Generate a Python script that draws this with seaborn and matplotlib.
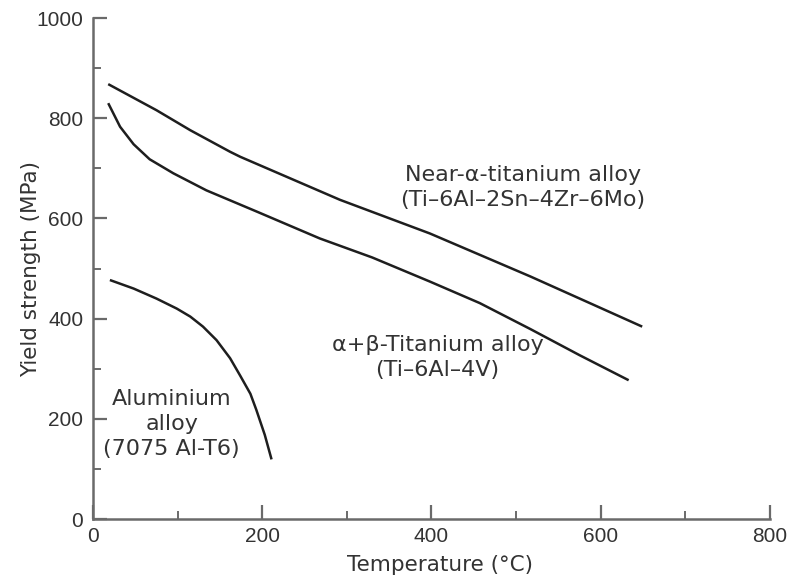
import matplotlib
matplotlib.use("Agg")
import matplotlib.pyplot as plt
from matplotlib.ticker import MultipleLocator
import pandas as pd
import seaborn as sns

# Yield strength vs. temperature for three alloys
near_alpha_T = [18, 75, 115, 162, 174, 233, 292, 398, 517, 587, 649]
near_alpha_S = [868, 816, 776, 733, 723, 680, 637, 570, 484, 431, 384]

alpha_beta_T = [18, 32, 48, 67, 95, 134, 193, 268, 330, 398, 457, 517, 575, 633]
alpha_beta_S = [830, 783, 748, 718, 690, 656, 614, 560, 522, 474, 431, 379, 327, 277]

aluminium_T = [20, 48, 75, 99, 115, 130, 146, 162, 174, 186, 193, 203, 211]
aluminium_S = [477, 460, 440, 420, 404, 384, 357, 321, 286, 250, 218, 168, 119]

x_ticks = [0, 200, 400, 600, 800]
y_ticks = [0, 200, 400, 600, 800, 1000]

series = {
    "near_alpha": (near_alpha_T, near_alpha_S),
    "alpha_beta": (alpha_beta_T, alpha_beta_S),
    "aluminium": (aluminium_T, aluminium_S),
}
frames = []
for name, (t, s) in series.items():
    frames.append(pd.DataFrame({"Temperature": t, "Strength": s, "alloy": name}))
df = pd.concat(frames, ignore_index=True)

sns.set_theme(style="ticks")
plt.rcParams["font.family"] = ["Liberation Sans", "DejaVu Sans"]
text_color = "#333333"
axis_color = "#6a6a6a"
label_font = ["DejaVu Sans"]

fig = plt.figure(figsize=(7.92, 5.77), dpi=100)
ax = fig.add_axes([0.1174, 0.1005, 0.8548, 0.8683])

sns.lineplot(data=df, x="Temperature", y="Strength", units="alloy",
             estimator=None, sort=False, color="#1e1e1e", linewidth=1.8,
             ax=ax)
for line in ax.lines:
    line.set_solid_joinstyle("round")
    line.set_solid_capstyle("butt")

ax.set_xlim(0, 800)
ax.set_ylim(0, 1000)
ax.set_xticks(x_ticks)
ax.set_yticks(y_ticks)
ax.xaxis.set_minor_locator(MultipleLocator(100))
ax.yaxis.set_minor_locator(MultipleLocator(100))

for side in ("top", "right"):
    ax.spines[side].set_visible(False)
for side in ("left", "bottom"):
    ax.spines[side].set_color(axis_color)
    ax.spines[side].set_linewidth(1.8)

ax.tick_params(which="major", direction="in", length=10, width=1.6,
               color=axis_color, labelsize=15, labelcolor=text_color, pad=7)
ax.tick_params(which="minor", direction="in", length=5.5, width=1.4,
               color=axis_color)
ax.tick_params(axis="x", which="major", pad=6)

ax.set_xlabel("Temperature (°C)", fontsize=15.5, color=text_color,
              labelpad=5, family=label_font)
ax.xaxis.set_label_coords(0.512, -0.072)
ax.set_ylabel("Yield strength (MPa)", fontsize=15.5, color=text_color,
              labelpad=-3.5, family=label_font)

label_kw = dict(fontsize=16, color=text_color, ha="center", va="center",
                linespacing=1.3, family=label_font)
ax.text(508, 661, "Near-α-titanium alloy\n(Ti–6Al–2Sn–4Zr–6Mo)", **label_kw)
ax.text(407, 322, "α+β-Titanium alloy\n(Ti–6Al–4V)", **label_kw)
ax.text(93, 190, "Aluminium\nalloy\n(7075 Al-T6)", **label_kw)

fig.savefig("out.png", dpi=100)
